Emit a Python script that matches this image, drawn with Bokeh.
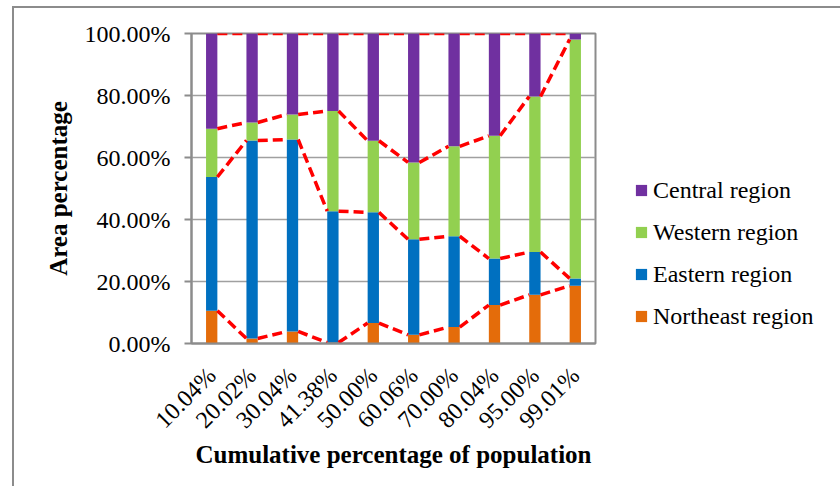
from bokeh.plotting import figure
from bokeh.models import (ColumnDataSource, FactorRange, Legend, LegendItem,
                          PrintfTickFormatter, FixedTicker)
from bokeh.transform import dodge
from bokeh.embed import file_html
from bokeh.resources import INLINE
import math

categories = ["10.04%", "20.02%", "30.04%", "41.38%", "50.00%",
              "60.06%", "70.00%", "80.04%", "95.00%", "99.01%"]
northeast = [10.6, 1.6, 3.9, 0.3, 6.6, 2.8, 5.3, 12.4, 15.7, 18.6]
eastern = [43.1, 63.9, 61.9, 42.4, 35.7, 30.8, 29.3, 15.0, 13.8, 2.4]
western = [15.6, 5.8, 8.1, 32.3, 23.1, 24.8, 29.0, 39.6, 50.2, 77.1]
central = [30.7, 28.7, 26.1, 25.0, 34.6, 41.6, 36.4, 33.0, 20.3, 1.9]

series_keys = ["northeast", "eastern", "western", "central"]
series_names = ["Northeast region", "Eastern region", "Western region", "Central region"]
series_colors = ["#E46C0A", "#0070C0", "#92D050", "#7030A0"]
y_ticks = [0, 20, 40, 60, 80, 100]

FONT = "Liberation Serif"
BAR_W = 0.28

source = ColumnDataSource(dict(cat=categories, northeast=northeast, eastern=eastern,
                               western=western, central=central))

p = figure(x_range=FactorRange(*categories, range_padding=0), y_range=(0, 100),
           frame_width=404, frame_height=310, output_backend="svg", toolbar_location=None,
           min_border_left=191, min_border_right=237, min_border_top=33, min_border_bottom=143)
p.x_range.factor_padding = 0
p.x_range.range_padding = 0

renderers = p.vbar_stack(series_keys, x="cat", width=BAR_W, color=series_colors,
                         line_color=None, source=source)

# series lines connecting cumulative tops between bars
vals = [northeast, eastern, western, central]
x0, x1, y0, y1 = [], [], [], []
cum = [0.0] * len(categories)
for s in vals:
    cum = [c + v for c, v in zip(cum, s)]
    for i in range(len(categories) - 1):
        x0.append(categories[i]); x1.append(categories[i + 1])
        y0.append(cum[i]); y1.append(cum[i + 1])
seg_src = ColumnDataSource(dict(x0=x0, x1=x1, y0=y0, y1=y1))
p.segment(x0=dodge("x0", BAR_W / 2, range=p.x_range), y0="y0",
          x1=dodge("x1", -BAR_W / 2, range=p.x_range), y1="y1",
          source=seg_src, line_color="#FF0000", line_width=3.5, line_dash="10 5")

# axes
p.yaxis.ticker = FixedTicker(ticks=y_ticks)
p.yaxis.formatter = PrintfTickFormatter(format="%.2f%%")
p.yaxis.axis_label = "Area percentage"
p.xaxis.axis_label = "Cumulative percentage of population"
for ax in (p.xaxis[0], p.yaxis[0]):
    ax.axis_line_color = "#8c8c8c"
    ax.axis_line_width = 2
    ax.major_tick_line_color = "#8c8c8c"
    ax.major_tick_line_width = 2
    ax.minor_tick_line_color = None
    ax.major_label_text_font = FONT
    ax.major_label_text_font_size = "24px"
    ax.major_label_text_color = "black"
    ax.axis_label_text_font = FONT
    ax.axis_label_text_font_size = "25px"
    ax.axis_label_text_font_style = "bold"
    ax.axis_label_text_color = "black"
p.yaxis.major_tick_out = 7
p.yaxis.major_tick_in = 0
p.yaxis.major_label_standoff = 14
p.yaxis.axis_label_standoff = 10
p.xaxis.major_tick_out = 0
p.xaxis.major_tick_in = 0
p.xaxis.major_label_orientation = math.pi / 4
p.xaxis.major_label_standoff = 28
p.xaxis.axis_label_standoff = -4

p.xgrid.grid_line_color = None
p.ygrid.grid_line_color = "#a0a0a0"
p.ygrid.grid_line_width = 1.5
p.outline_line_color = "#8c8c8c"
p.outline_line_width = 2

items = [LegendItem(label=series_names[i], renderers=[renderers[i]]) for i in (3, 2, 1, 0)]
legend = Legend(items=items, location=(39, 6), padding=0, margin=0,
                border_line_alpha=0, background_fill_alpha=0,
                glyph_width=14, glyph_height=14, label_standoff=5,
                label_text_font=FONT, label_text_font_size="24px",
                label_text_color="black",
                label_height=42, spacing=0)
p.add_layout(legend, "right")

# outer chart-area border (left and top edges) shown through a transparent border fill
p.border_fill_color = None
p.styles = {
    "background": ("linear-gradient(#8c8c8c,#8c8c8c) 12px 6px / 2px 100% no-repeat, "
                   "linear-gradient(#8c8c8c,#8c8c8c) 12px 6px / 100% 2px no-repeat, white"),
}

open("out.html", "w").write(file_html(p, INLINE))
